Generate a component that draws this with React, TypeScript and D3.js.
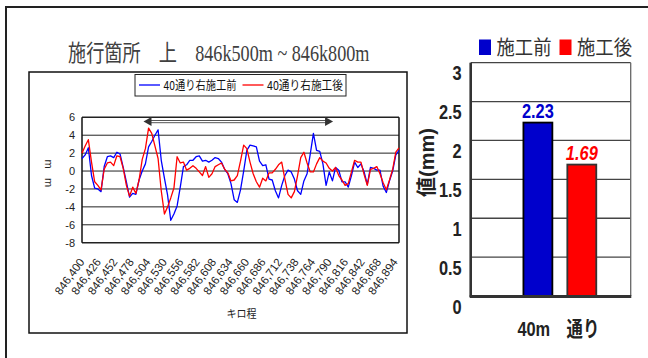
import React from 'react';
import * as d3 from 'd3';

// ---------- left chart data ----------
const chainageM = [
  400, 405, 410, 415, 420, 425, 430, 435, 440, 445, 450, 455, 460, 465, 470, 475, 480, 485, 490, 495,
  500, 505, 510, 515, 520, 525, 530, 535, 540, 545, 550, 555, 560, 565, 570, 575, 580, 585, 590, 595,
  600, 605, 610, 615, 620, 625, 630, 635, 640, 645, 650, 655, 660, 665, 670, 675, 680, 685, 690, 695,
  700, 705, 710, 715, 720, 725, 730, 735, 740, 745, 750, 755, 760, 765, 770, 775, 780, 785, 790, 795,
  800, 805, 810, 815, 820, 825, 830, 835, 840, 845, 850, 855, 860, 865, 870, 875, 880, 885, 890, 895, 900,
];
const beforeValues = [
  1.4, 1.8, 2.6, -0.5, -1.9, -2.0, -2.3, 0.5, 1.6, 1.7, 1.5, 2.1, 1.9, 0.4, -1.2, -2.9, -2.5, -2.6, -1.0, 0.0,
  0.8, 2.7, 3.3, 4.0, 4.6, 1.2, -0.8, -2.7, -5.5, -4.8, -3.9, -1.8, 0.5, 0.7, 1.2, 1.2, 1.6, 1.7, 1.1, 1.2,
  1.0, 1.2, 1.5, 1.4, 1.0, 0.2, -0.3, -1.4, -3.2, -3.5, -2.1, 0.0, 2.3, 2.9, 2.8, 2.7, 1.1, 0.6, 0.7, -0.9,
  -1.0, -2.2, -3.0, -1.6, -0.5, 0.1, -0.1, -0.9, -2.2, -2.6, -1.1, -0.3, 1.9, 4.2, 2.3, 2.2, 0.8, -1.6, -0.1, -1.1,
  0.4, 0.1, -1.2, -1.2, -1.8, -0.5, 1.0, 0.4, 0.8, -0.1, -1.5, 0.4, 0.3, 0.1, 0.1, -1.7, -2.4, -1.1, 0.0, 1.8, 2.3,
];
const afterValues = [
  2.0, 2.8, 3.5, 1.0, -1.2, -1.6, -2.1, 0.2, 0.9, 1.0, 0.6, 1.7, 1.6, 0.3, -1.6, -2.8, -1.8, -2.5, -1.0, 1.3,
  2.5, 4.8, 4.2, 2.8, 1.4, -2.2, -4.8, -4.0, -3.0, -1.9, 1.6, 0.9, 1.0, 0.1, 0.3, 0.6, 0.3, -0.1, -0.5, 0.5,
  -0.7, -0.3, 0.5, 0.7, 0.9, 0.2, -0.2, -1.1, -1.0, -0.5, 1.1, 2.9, 2.5, 1.0, -0.3, -1.2, -1.8, -0.8, -1.1, -0.2,
  -0.2, 0.2, 0.7, 1.0, -0.9, -2.6, -3.0, -2.3, -0.5, 1.5, 2.1, 0.9, -0.1, -0.1, 0.8, 1.5, 1.1, 0.9, 0.3, 0.0,
  0.4, -0.5, -1.0, -1.6, -1.4, -0.1, 1.2, 1.0, 1.0, -0.4, -1.6, 0.2, 0.3, 0.5, -0.3, -1.3, -2.1, -1.0, 0.2, 2.1, 2.6,
];
const lineSeriesNames = ['40通り右施工前', '40通り右施工後'];
const lineColors = ['#0000FF', '#FF0000'];
const yTicksLeft = [6, 4, 2, 0, -2, -4, -6, -8];
const xTickM = [400, 426, 452, 478, 504, 530, 556, 582, 608, 634, 660, 686, 712, 738, 764, 790, 816, 842, 868, 894];
const xTickLabels = [
  '846,400', '846,426', '846,452', '846,478', '846,504', '846,530', '846,556', '846,582', '846,608', '846,634',
  '846,660', '846,686', '846,712', '846,738', '846,764', '846,790', '846,816', '846,842', '846,868', '846,894',
];
const arrowRangeM = [497, 796];
const titleText = '施行箇所　上　846k500m ~ 846k800m';

// ---------- right chart data ----------
const barCategories = ['40m　通り'];
const barSeries = ['施工前', '施工後'];
const barValues = [2.23, 1.69];
const barLabels = ['2.23', '1.69'];
const barColors = ['#0000CC', '#FF0000'];
const barTicks = [0, 0.5, 1, 1.5, 2, 2.5, 3];
const barTickLabels = ['0', '0.5', '1', '1.5', '2', '2.5', '3'];

type TP = {
  x: number; y: number; children: React.ReactNode; size: number; anchor?: string; weight?: string | number;
  fill?: string; family?: string; sx?: number; rot?: number; italic?: boolean; baseline?: string; len?: number;
};
function T({ x, y, children, size, anchor = 'start', weight = 'normal', fill = '#000', family = 'Liberation Sans, Arial, sans-serif', sx = 1, rot = 0, italic = false, baseline, len }: TP) {
  return (
    <text
      transform={`translate(${x},${y}) rotate(${rot}) scale(${sx},1)`}
      fontSize={size}
      textAnchor={anchor as any}
      fontWeight={weight as any}
      fontStyle={italic ? 'italic' : 'normal'}
      fill={fill}
      fontFamily={family}
      dominantBaseline={baseline as any}
      textLength={len}
      lengthAdjust={len ? 'spacingAndGlyphs' : undefined}
    >
      {children}
    </text>
  );
}

export default function App() {
  // left chart scales
  const pl = 82, pr = 399, pt = 117.3, pb = 242.7;
  const x = d3.scaleLinear().domain([400, 900]).range([pl, pr]);
  const y = d3.scaleLinear().domain([-8, 6]).range([pb, pt]);
  const line = d3.line<number>().x((_, i) => x(chainageM[i])).y((d) => y(d));
  const series = [beforeValues, afterValues];

  // right chart scales
  const bl = 470.7, br = 630.7, bt = 62.7, bb = 296;
  const yB = d3.scaleLinear().domain([0, 3]).range([bb, bt]);
  const x0 = d3.scaleBand().domain(barCategories).range([489, br]);
  const x1 = d3.scaleBand().domain(barSeries).range([0, x0.bandwidth()]).paddingInner(0.341).paddingOuter(0.784);

  const ay = 121.5;
  const ax0 = x(arrowRangeM[0]);
  const ax1 = x(arrowRangeM[1]);

  const jp = 'Noto Sans CJK JP, sans-serif';

  return (
    <svg width={648} height={358} style={{ position: 'fixed', left: 0, top: 0, display: 'block', background: '#fff' }}>
      <rect x={0} y={0} width={648} height={358} fill="#fff" />
      {/* outer frame */}
      <path d="M6,358 L6,7 L648,7" fill="none" stroke="#222" strokeWidth={2} />

      {/* title */}
      <T x={68} y={61} size={23} fill="#404040" family="Liberation Serif, Noto Sans CJK JP, serif" sx={0.79}>{titleText}</T>

      {/* left chart frame */}
      <rect x={29} y={72} width={378} height={261} fill="#fff" stroke="#111" strokeWidth={1.5} />

      {/* legend */}
      <rect x={135} y={74.5} width={211} height={21.5} fill="#fff" stroke="#222" strokeWidth={1} />
      {lineSeriesNames.map((n, i) => {
        const lx = i === 0 ? 139 : 242.5;
        return (
          <g key={n}>
            <line x1={lx} x2={lx + 21} y1={85} y2={85} stroke={lineColors[i]} strokeWidth={1.3} />
            <T x={lx + 24.5} y={89.5} size={12} family={jp} fill="#111" len={i === 0 ? 73 : 76}>{n}</T>
          </g>
        );
      })}

      {/* gridlines */}
      {yTicksLeft.map((t) => (
        <g key={t}>
          <line x1={pl} x2={pr} y1={y(t)} y2={y(t)} stroke="#222" strokeWidth={t === 6 || t === -8 ? 1.6 : 1} />
          <T x={75} y={y(t) + 4} size={11} anchor="end" fill="#222">{String(t)}</T>
        </g>
      ))}
      <line x1={pl} x2={pl} y1={pt} y2={pb} stroke="#111" strokeWidth={1.5} />
      <line x1={pr} x2={pr} y1={pt} y2={pb} stroke="#111" strokeWidth={1.5} />

      {/* y-axis title */}
      <T x={49} y={164} size={11} anchor="middle" baseline="central" rot={90} fill="#222">m</T>
      <T x={49} y={182.5} size={11} anchor="middle" baseline="central" rot={90} fill="#222">m</T>

      {/* arrow */}
      <line x1={ax0 + 6} x2={ax1 - 6} y1={ay - 1} y2={ay - 1} stroke="#555" strokeWidth={1} />
      <line x1={ax0 + 6} x2={ax1 - 6} y1={ay + 1.2} y2={ay + 1.2} stroke="#555" strokeWidth={1} />
      <path d={`M${ax0},${ay} L${ax0 + 8},${ay - 4.5} L${ax0 + 8},${ay + 4.5} Z`} fill="#333" />
      <path d={`M${ax1},${ay} L${ax1 - 8},${ay - 4.5} L${ax1 - 8},${ay + 4.5} Z`} fill="#333" />

      {/* data lines */}
      {series.map((s, i) => (
        <path key={i} d={line(s) || ''} fill="none" stroke={lineColors[i]} strokeWidth={1.3} strokeLinejoin="round" />
      ))}

      {/* x tick labels */}
      {xTickM.map((m, i) => (
        <T key={m} x={x(m) + 3} y={262} size={11.5} anchor="end" rot={-54} fill="#222">{xTickLabels[i]}</T>
      ))}
      <T x={241.5} y={318} size={11} anchor="middle" family={jp} fill="#222" len={30}>キロ程</T>

      {/* ---------- right bar chart ---------- */}
      {/* legend */}
      {barSeries.map((s, i) => {
        const lx = i === 0 ? 479 : 559.5;
        return (
          <g key={s}>
            <rect x={lx} y={39.5} width={12} height={15.5} fill={barColors[i]} />
            <T x={lx + 17.5} y={55} size={20} family={jp} fill="#333" len={55}>{s}</T>
          </g>
        );
      })}

      {/* gridlines */}
      {barTicks.map((t, i) => (
        <g key={t}>
          {t > 0 && <line x1={bl} x2={br} y1={yB(t)} y2={yB(t)} stroke="#444" strokeWidth={1.3} />}
          <T x={461.7} y={yB(t) + 17.5} size={21} anchor="end" weight="bold" fill="#222" sx={0.78}>{barTickLabels[i]}</T>
        </g>
      ))}
      <line x1={br} x2={br} y1={bt} y2={bb} stroke="#666" strokeWidth={1.3} />

      {/* bars */}
      {barCategories.map((c) => (
        <g key={c}>
          {barSeries.map((s, i) => {
            const bx = (x0(c) || 0) + (x1(s) || 0);
            const w = x1.bandwidth();
            return (
              <g key={s}>
                <rect x={bx} y={yB(barValues[i])} width={w} height={bb - yB(barValues[i])} fill={barColors[i]} stroke={i === 0 ? '#000' : '#333'} strokeWidth={1.8} />
                <T x={bx + w / 2} y={yB(barValues[i]) - 5} size={21} anchor="middle" weight="bold" fill={barColors[i]} sx={0.78} italic={i === 1}>{barLabels[i]}</T>
              </g>
            );
          })}
          <T x={(x0(c) || 0) + x0.bandwidth() / 2 - 1.5} y={336} size={21} anchor="middle" weight="bold" fill="#222" sx={0.78} family={'Liberation Sans, Arial, Noto Sans CJK JP, sans-serif'}>{c}</T>
        </g>
      ))}

      {/* axes */}
      <line x1={bl} x2={bl} y1={bt} y2={bb + 1} stroke="#333" strokeWidth={2.6} />
      <line x1={bl - 1} x2={br + 0.6} y1={bb + 0.5} y2={bb + 0.5} stroke="#333" strokeWidth={3} />

      {/* y title */}
      <T x={434} y={197} size={20} weight="bold" rot={-90} fill="#222" family={'Liberation Sans, Noto Sans CJK JP, sans-serif'}>値(mm)</T>
    </svg>
  );
}
